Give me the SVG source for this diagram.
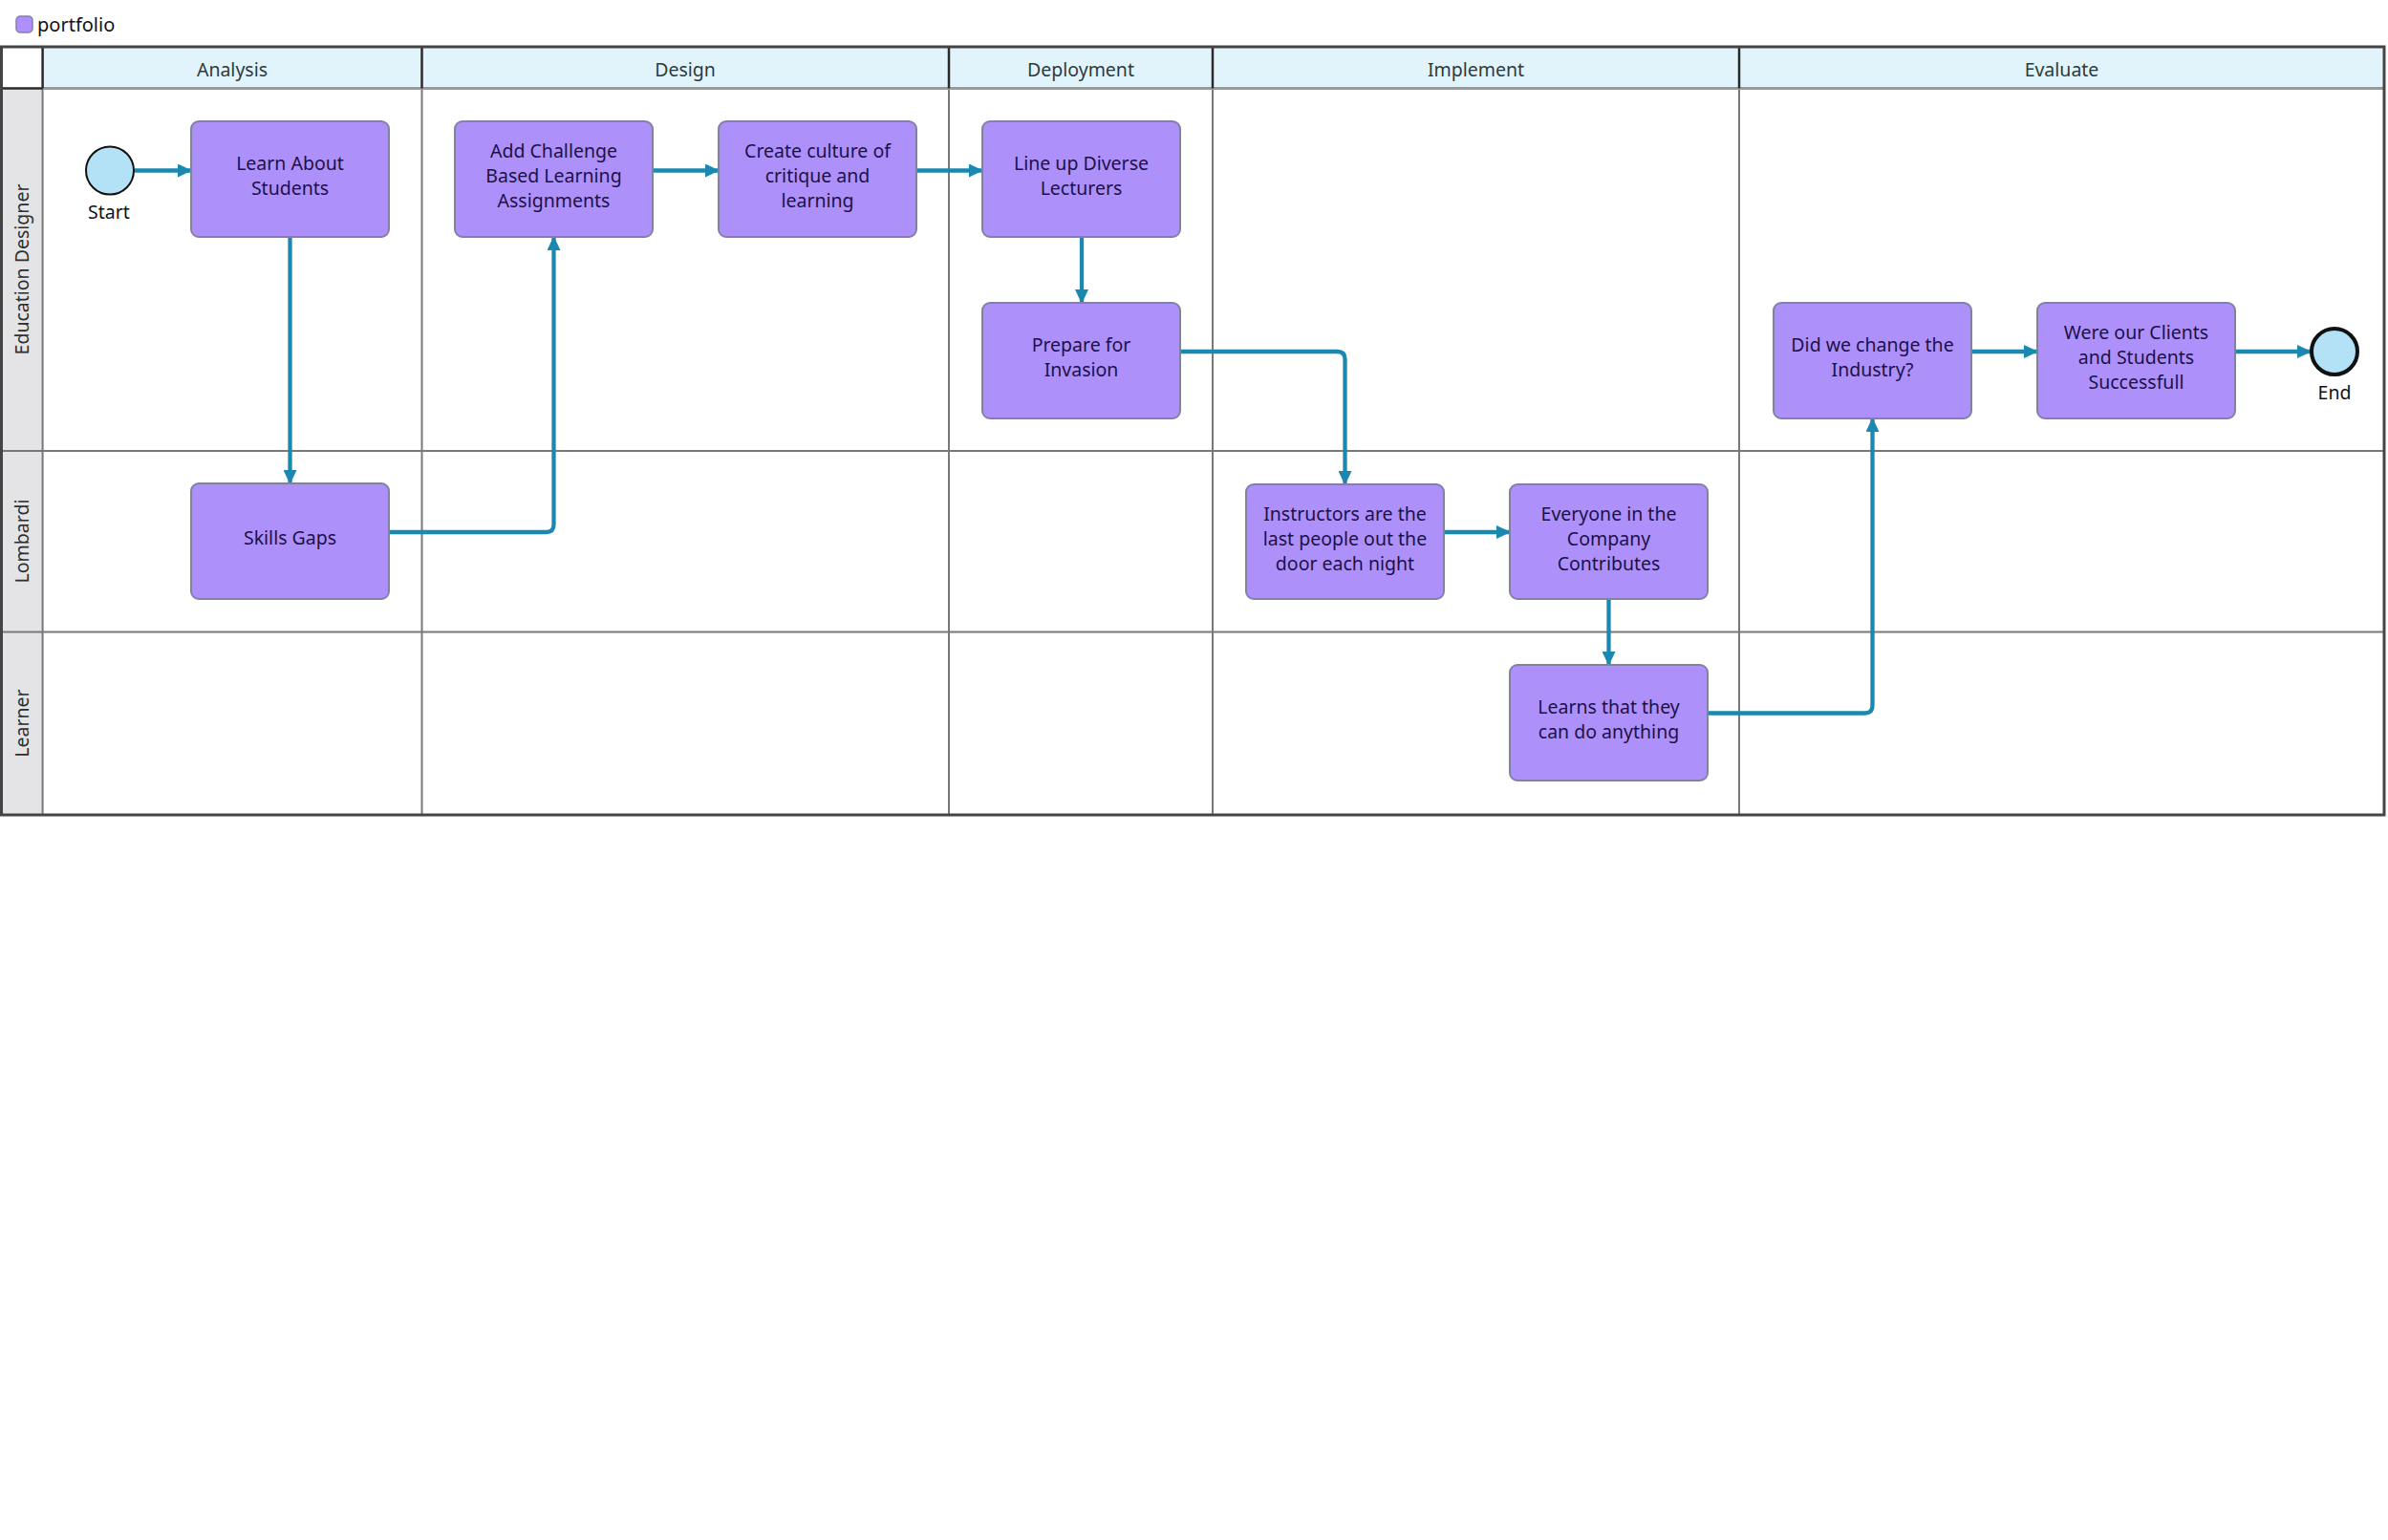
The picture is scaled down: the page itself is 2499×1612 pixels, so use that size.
<svg xmlns="http://www.w3.org/2000/svg" width="2499" height="1612" viewBox="0 0 2499 1612">
<style>
.bg{fill:#ffffff}
.hdr{fill:#e2f4fb}
.lanehdr{fill:#e4e4e6}
.gridv{stroke:#787878;stroke-width:2;fill:none}
.gridh{stroke:#787878;stroke-width:2;fill:none}
.hsep{stroke:#2a2a2a;stroke-width:2.5;fill:none}
.hbot{stroke:#9a9a9a;stroke-width:3;fill:none}
.frame{stroke:#444444;stroke-width:3;fill:none}
.htext{font-family:"Noto Sans","Open Sans",sans-serif;font-size:19.5px;fill:#2d3a40;text-anchor:middle}
.ltext{font-family:"Noto Sans","Open Sans",sans-serif;font-size:19.5px;fill:#2d2d2d;text-anchor:middle}
.task rect{fill:#ae90fb;stroke:#8280a6;stroke-width:2}
.task text{font-family:"Noto Sans","Open Sans",sans-serif;font-size:19.5px;fill:#1c1048;text-anchor:middle}
.evlabel{font-family:"Noto Sans","Open Sans",sans-serif;font-size:19.5px;fill:#111111;text-anchor:middle}
.conn{stroke:#1b88b2;stroke-width:4.3;fill:none;marker-end:url(#arr)}
</style>
<defs>
<marker id="arr" markerUnits="userSpaceOnUse" markerWidth="15" markerHeight="14" refX="14" refY="7" orient="auto">
<path d="M0,0 L15,7 L0,14 z" fill="#1b88b2"/>
</marker>
</defs>
<rect class="bg" x="0" y="0" width="2499" height="1612"/>

<g id="legend">
<rect x="17" y="17" width="17" height="17" rx="4" fill="#ae90fb" stroke="#8280a6" stroke-width="1.5"/>
<text x="39" y="33" font-family="Noto Sans, Open Sans, sans-serif" font-size="20" fill="#111111">portfolio</text>
</g>

<g id="pool">
<rect class="hdr" x="44.6" y="49" width="2450.4" height="43.5"/>
<rect class="lanehdr" x="1" y="92.5" width="43.6" height="760.5"/>
<line class="gridh" x1="1" y1="472" x2="2495" y2="472"/>
<line class="gridh" x1="1" y1="661.5" x2="2495" y2="661.5"/>
<line class="gridv" x1="44.6" y1="92.5" x2="44.6" y2="853"/>
<line class="gridv" x1="441.5" y1="92.5" x2="441.5" y2="853"/>
<line class="gridv" x1="993" y1="92.5" x2="993" y2="853"/>
<line class="gridv" x1="1269" y1="92.5" x2="1269" y2="853"/>
<line class="gridv" x1="1820" y1="92.5" x2="1820" y2="853"/>
<line class="hbot" x1="44.6" y1="92.5" x2="2495" y2="92.5"/>
<line class="hsep" x1="1" y1="92.5" x2="44.6" y2="92.5"/>
<line class="hsep" x1="44.6" y1="49" x2="44.6" y2="92.5"/>
<line class="hsep" x1="441.5" y1="49" x2="441.5" y2="92.5"/>
<line class="hsep" x1="993" y1="49" x2="993" y2="92.5"/>
<line class="hsep" x1="1269" y1="49" x2="1269" y2="92.5"/>
<line class="hsep" x1="1820" y1="49" x2="1820" y2="92.5"/>
<rect class="frame" x="1.5" y="49" width="2493.5" height="804"/>
<text class="htext" x="243" y="80">Analysis</text>
<text class="htext" x="717" y="80">Design</text>
<text class="htext" x="1131" y="80">Deployment</text>
<text class="htext" x="1544.5" y="80">Implement</text>
<text class="htext" x="2157.5" y="80">Evaluate</text>
<text class="ltext" transform="translate(29.5,282) rotate(-90)">Education Designer</text>
<text class="ltext" transform="translate(29.5,566.5) rotate(-90)">Lombardi</text>
<text class="ltext" transform="translate(29.5,757) rotate(-90)">Learner</text>
</g>

<g id="connectors">
<path class="conn" d="M141,178.5 L200,178.5"/>
<path class="conn" d="M303.5,249 L303.5,506"/>
<path class="conn" d="M408,557 L571.5,557 Q579.5,557 579.5,549 L579.5,248"/>
<path class="conn" d="M684,178.5 L752,178.5"/>
<path class="conn" d="M960,178.5 L1028,178.5"/>
<path class="conn" d="M1132,249 L1132,317"/>
<path class="conn" d="M1236,368 L1399.5,368 Q1407.5,368 1407.5,376 L1407.5,507"/>
<path class="conn" d="M1511,557 L1580,557"/>
<path class="conn" d="M1683.5,628 L1683.5,696"/>
<path class="conn" d="M1787,746.5 L1951.5,746.5 Q1959.5,746.5 1959.5,738.5 L1959.5,438"/>
<path class="conn" d="M2063,368 L2132,368"/>
<path class="conn" d="M2339,368 L2418,368"/>
</g>

<g id="start">
<circle cx="115" cy="178.5" r="25" fill="#b3e2f7" stroke="#111111" stroke-width="2"/>
<text class="evlabel" x="114" y="229">Start</text>
</g>

<g id="end">
<circle cx="2443" cy="368" r="24" fill="#b3e2f7" stroke="#111111" stroke-width="4"/>
<text class="evlabel" x="2443" y="418">End</text>
</g>

<g id="learn-about-students" class="task">
<rect x="200" y="127" width="207" height="121" rx="8"/>
<text x="303.5" y="178">Learn About</text>
<text x="303.5" y="204">Students</text>
</g>

<g id="skills-gaps" class="task">
<rect x="200" y="506" width="207" height="121" rx="8"/>
<text x="303.5" y="570">Skills Gaps</text>
</g>

<g id="add-challenge" class="task">
<rect x="476" y="127" width="207" height="121" rx="8"/>
<text x="579.5" y="165">Add Challenge</text>
<text x="579.5" y="191">Based Learning</text>
<text x="579.5" y="217">Assignments</text>
</g>

<g id="create-culture" class="task">
<rect x="752" y="127" width="207" height="121" rx="8"/>
<text x="855.5" y="165">Create culture of</text>
<text x="855.5" y="191">critique and</text>
<text x="855.5" y="217">learning</text>
</g>

<g id="line-up" class="task">
<rect x="1028" y="127" width="207" height="121" rx="8"/>
<text x="1131.5" y="178">Line up Diverse</text>
<text x="1131.5" y="204">Lecturers</text>
</g>

<g id="prepare" class="task">
<rect x="1028" y="317" width="207" height="121" rx="8"/>
<text x="1131.5" y="368">Prepare for</text>
<text x="1131.5" y="394">Invasion</text>
</g>

<g id="instructors" class="task">
<rect x="1304" y="507" width="207" height="120" rx="8"/>
<text x="1407.5" y="545">Instructors are the</text>
<text x="1407.5" y="571">last people out the</text>
<text x="1407.5" y="597">door each night</text>
</g>

<g id="everyone" class="task">
<rect x="1580" y="507" width="207" height="120" rx="8"/>
<text x="1683.5" y="545">Everyone in the</text>
<text x="1683.5" y="571">Company</text>
<text x="1683.5" y="597">Contributes</text>
</g>

<g id="learns" class="task">
<rect x="1580" y="696" width="207" height="121" rx="8"/>
<text x="1683.5" y="747">Learns that they</text>
<text x="1683.5" y="773">can do anything</text>
</g>

<g id="did-we-change" class="task">
<rect x="1856" y="317" width="207" height="121" rx="8"/>
<text x="1959.5" y="368">Did we change the</text>
<text x="1959.5" y="394">Industry?</text>
</g>

<g id="were-our-clients" class="task">
<rect x="2132" y="317" width="207" height="121" rx="8"/>
<text x="2235.5" y="355">Were our Clients</text>
<text x="2235.5" y="381">and Students</text>
<text x="2235.5" y="407">Successfull</text>
</g>
</svg>
